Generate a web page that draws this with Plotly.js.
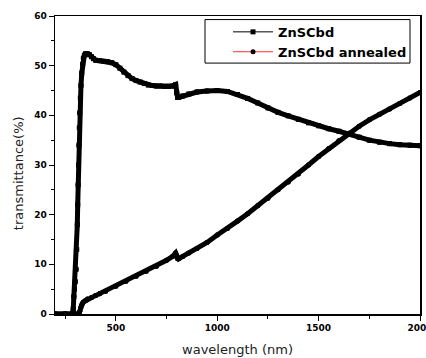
<!DOCTYPE html>
<html>
<head>
<meta charset="utf-8">
<script src="https://cdn.plot.ly/plotly-3.0.1.min.js"></script>
<style>html,body{margin:0;padding:0;background:#fff;}#chart{width:426px;height:358px;}</style>
</head>
<body>
<div id="chart"></div>
<script>
// ZnSCbd (as-deposited)
const wlA = [200,250,285,290,293,296,300,304,307,310,312,314,316,318,320,322,325,328,332,336,340,345,350,360,370,380,390,400,420,440,460,480,500,520,540,560,580,600,620,640,660,680,700,720,740,760,780,795,800,805,810,830,860,900,950,1000,1050,1100,1150,1200,1250,1300,1350,1400,1450,1500,1550,1600,1650,1700,1750,1800,1850,1900,1950,2000];
const tA  = [0,0,0,1,3.5,5,6.5,9,13,18,22,26,30,34,37.5,40.5,43.5,46,48.5,50.3,51.5,52.1,52.4,52.4,52.2,51.8,51.4,51.1,51.0,50.9,50.8,50.6,50.2,49.5,48.7,48.0,47.4,47.0,46.7,46.4,46.1,46.0,45.9,45.9,45.8,45.8,45.9,46.2,44.5,43.6,43.6,43.9,44.3,44.7,44.9,45.0,44.8,44.2,43.4,42.5,41.5,40.6,39.9,39.2,38.5,37.9,37.3,36.8,36.3,35.6,35.0,34.6,34.3,34.1,34.0,33.9];
// ZnSCbd annealed
const wlB = [200,250,290,300,310,318,322,326,330,335,340,350,360,380,400,420,450,500,550,600,650,700,750,780,795,800,805,810,830,860,900,950,1000,1050,1100,1150,1200,1250,1300,1350,1400,1450,1500,1550,1600,1650,1700,1750,1800,1850,1900,1950,2000];
const tB  = [0,0,0,0,0,0,0.5,1.2,1.7,2.1,2.4,2.7,3.0,3.3,3.7,4.1,4.6,5.6,6.6,7.6,8.6,9.6,10.8,11.6,12.3,11.8,11.1,11.1,11.6,12.3,13.2,14.4,15.9,17.2,18.7,20.2,21.8,23.3,25.0,26.6,28.2,30.0,31.7,33.3,34.9,36.4,37.8,39.1,40.2,41.3,42.4,43.5,44.6];
const seriesNames = ["ZnSCbd", "ZnSCbd annealed"];
const xTicks = [500,1000,1500,2000];
const xTickText = ["500","1000","1500","2000"];
const yTicks = [0,10,20,30,40,50,60];

const traces = [
  {x: wlA, y: tA, name: seriesNames[0], mode: 'lines+markers', line: {color: '#000', width: 1},
   marker: {symbol: 'square', size: 5, color: '#000'}, showlegend: true},
  {x: wlB, y: tB, name: seriesNames[1], mode: 'lines+markers', line: {color: '#ff3030', width: 1},
   marker: {symbol: 'circle', size: 5, color: '#000'}, showlegend: true},
  {x: wlA, y: tA, mode: 'lines+markers', line: {color: '#000', width: 5}, marker: {symbol:'circle', size: 5, color: '#000'}, showlegend: false, hoverinfo: 'skip'},
  {x: wlB, y: tB, mode: 'lines+markers', line: {color: '#000', width: 5}, marker: {symbol:'circle', size: 5, color: '#000'}, showlegend: false, hoverinfo: 'skip'}
];

const tickFont = {family: 'DejaVu Sans', size: 9, color: '#000', weight: 'bold'};
const layout = {
  width: 426, height: 358,
  margin: {l: 55, r: 6, t: 16, b: 44},
  paper_bgcolor: '#fff', plot_bgcolor: '#fff',
  font: {family: 'DejaVu Sans', color: '#000'},
  showlegend: true,
  xaxis: {
    range: [200, 2000], tickvals: xTicks, ticktext: xTickText, ticks: 'outside', ticklen: 5, tickwidth: 1,
    tickcolor: '#000', tickfont: tickFont, showgrid: false, zeroline: false, ticklabeloverflow: 'allow',
    showline: true, linecolor: '#000', linewidth: 1.5, mirror: true,
    minor: {tickvals: [250,750,1250,1750], ticks: 'outside', ticklen: 3, tickcolor: '#000', showgrid: false},
    title: {text: 'wavelength (nm)', font: {family: 'DejaVu Sans', size: 13, color: '#222'}, standoff: 12},
    automargin: false
  },
  yaxis: {
    range: [0, 60], tickvals: yTicks, ticks: 'outside', ticklen: 5, tickwidth: 1,
    tickcolor: '#000', tickfont: tickFont, showgrid: false, zeroline: false,
    showline: true, linecolor: '#000', linewidth: 1.5, mirror: true,
    minor: {dtick: 5, ticks: 'outside', ticklen: 3, tickcolor: '#000', showgrid: false},
    automargin: false
  },
  annotations: [{text: 'transmittance(%)', xref: 'paper', yref: 'paper', x: -0.101, y: 0.473,
    xanchor: 'center', yanchor: 'middle', textangle: -90, showarrow: false,
    font: {family: 'DejaVu Sans', size: 13, color: '#222'}}],
  legend: {
    x: 0.474, xanchor: 'left', y: 0.997, yanchor: 'top',
    bgcolor: 'rgba(0,0,0,0)', borderwidth: 0, itemwidth: 40,
    font: {family: 'DejaVu Sans', size: 13, color: '#000', weight: 'bold'},
    traceorder: 'normal'
  },
  shapes: [{type: 'rect', xref: 'paper', yref: 'paper', x0: 0.411, x1: 0.9726, y0: 0.842, y1: 0.988,
    line: {color: '#000', width: 1}, fillcolor: 'rgba(0,0,0,0)', layer: 'above'}]
};
Plotly.newPlot('chart', traces, layout, {displayModeBar: false, staticPlot: true});
</script>
</body>
</html>
